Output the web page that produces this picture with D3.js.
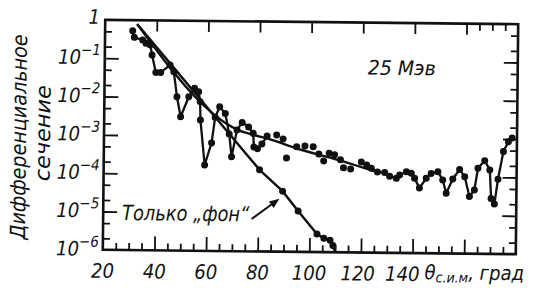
<!DOCTYPE html>
<html>
<head>
<meta charset="utf-8">
<script src="https://cdn.jsdelivr.net/npm/d3@7"></script>
<style>
  body { margin: 0; background: #fff; }
  text { font-family: "Liberation Sans Narrow", "DejaVu Sans Condensed", "Liberation Sans", sans-serif; font-style: italic; fill: #111; }
</style>
</head>
<body>
<svg width="534" height="288"></svg>
<script>
// angle (deg, c.m.) and differential cross section
const xTickLabels = [20, 40, 60, 80, 100, 120, 140];
const yDecades = [-1, -2, -3, -4, -5, -6];

// measured points joined by a broken line (forward angles)
const leftPoints = [
  [30.7, 0.53], [31.35, 0.356], [34.6, 0.305], [35.9, 0.25], [37.6, 0.227], [38.3, 0.124],
  [39.8, 0.044], [41.7, 0.044], [45.3, 0.069], [46.8, 0.046], [48.1, 0.0103], [49.6, 3.1e-3],
  [52.7, 0.0104], [54.9, 0.0173], [56.5, 0.0141], [57.1, 7.8e-3], [57.3, 2.6e-3], [59.1, 1.74e-4],
  [61.7, 6.6e-4], [63.0, 3.1e-3], [64.7, 5.8e-3], [66.9, 3.9e-3], [68.5, 1.13e-3], [69.5, 2.9e-4],
  [71.5, 1.45e-3], [73.5, 2.3e-3], [76.0, 1.75e-3], [77.8, 1.2e-3], [78.1, 5.3e-4], [79.5, 4.8e-4],
  [81.2, 6.4e-4], [83.2, 1.03e-3]
];
// measured points shown as dots only
const midPoints = [
  [86.9, 1.1e-3], [89.4, 8.7e-4], [90.8, 2.8e-4], [94.7, 5.5e-4], [97.9, 5.8e-4], [101.1, 5.6e-4],
  [103.3, 3.6e-4], [105.2, 2.4e-4], [107.3, 3.8e-4], [109.4, 3.5e-4], [111.7, 2.6e-4],
  [112.9, 1.6e-4], [115.7, 1.5e-4]
];
// measured points joined by a broken line (backward angles)
const rightPoints = [
  [119.8, 2.3e-4], [121.9, 1.93e-4], [123.7, 1.58e-4], [126.1, 1.27e-4], [128.9, 1.24e-4],
  [130.8, 1.0e-4], [133.4, 8.8e-5], [134.7, 1.08e-4], [137.3, 1.32e-4], [139.2, 1.2e-4],
  [140.5, 8.9e-5], [142.4, 5e-5], [145.0, 9e-5], [146.9, 1.21e-4], [149.5, 1.35e-4],
  [151.4, 8.2e-5], [152.8, 3.7e-5], [155.3, 8.8e-5], [157.9, 1.56e-4], [159.9, 1.01e-4],
  [161.8, 3.1e-5], [163.7, 4.6e-5], [165.0, 1.7e-4], [167.6, 2.7e-4], [169.6, 1.55e-4],
  [170.2, 2.8e-5], [171.5, 2e-5], [172.8, 8.9e-5], [174.8, 4.7e-4], [176.7, 8.5e-4], [178.1, 1.07e-3]
];
// smooth total curve
const fitCurve = [
  [32.4, 0.79], [62, 3.9e-3], [67, 2.2e-3], [72, 1.45e-3], [78, 1.1e-3], [85, 8.2e-4],
  [95, 4.9e-4], [108, 2.9e-4], [126, 1.27e-4]
];
// "background only" curve, dots on the inner vertices
const bgCurve = [
  [32.4, 0.79], [80.4, 1.35e-4], [89.4, 3.8e-5], [95.5, 1.17e-5], [102.9, 2.95e-6],
  [105.6, 2.3e-6], [108.0, 2.05e-6], [109.1, 1.5e-6], [110.0, 1e-6]
];
const arrowFrom = [77.5, 7e-6];
const arrowTo = [88.2, 2.4e-5];

const margin = {left: 104, top: 22, right: 17, bottom: 36};
const width = 534 - margin.left - margin.right;
const height = 288 - margin.top - margin.bottom;
const ink = '#111';

const svg = d3.select('svg');
// the scan is turned slightly clockwise
const page = svg.append('g').attr('transform', 'rotate(0.6, 310, 137)');
const plot = page.append('g').attr('transform', `translate(${margin.left},${margin.top})`);

const x = d3.scaleLinear().domain([20, 180]).range([0, width]);
const y = d3.scaleLog().domain([1e-6, 1]).range([height, 0]);

plot.append('clipPath').attr('id', 'clip')
  .append('rect').attr('width', width).attr('height', height);

// ticks
function ticks(axis, pos, values, size) {
  const g = plot.append('g').attr('transform', pos)
    .call(axis.tickValues(values).tickSize(size).tickSizeOuter(0).tickFormat(''));
  g.select('.domain').remove();
  g.selectAll('line').attr('stroke', ink).attr('stroke-width', 1.8);
}
const xMajor = d3.range(40, 180, 20);
const xMinor = d3.range(25, 180, 5).filter(d => d % 20 !== 0);
const yMajor = yDecades.slice(0, -1).map(k => Math.pow(10, k));
const yMinor = [];
d3.range(0, 6).forEach(k => [2, 5].forEach(m => yMinor.push(m * Math.pow(10, -k - 1))));

ticks(d3.axisBottom(x), `translate(0,${height})`, xMajor, -14);
ticks(d3.axisBottom(x), `translate(0,${height})`, xMinor, -7);
ticks(d3.axisTop(x), 'translate(0,0)', xMajor, -11);
ticks(d3.axisTop(x), 'translate(0,0)', [165, 170, 175], -7);
ticks(d3.axisLeft(y), 'translate(0,0)', yMajor, -14);
ticks(d3.axisLeft(y), 'translate(0,0)', yMinor, -7);
ticks(d3.axisRight(y), `translate(${width},0)`, yMajor, -14);
ticks(d3.axisRight(y), `translate(${width},0)`, yMinor, -7);

plot.append('rect')
  .attr('width', width).attr('height', height)
  .attr('fill', 'none').attr('stroke', ink).attr('stroke-width', 2.6);

// tick labels
plot.selectAll('.xl').data(xTickLabels).enter().append('text')
  .attr('x', d => x(d) - (d === 140 ? 10 : d === 120 ? 3 : 0))
  .attr('y', height + 28)
  .attr('text-anchor', 'middle')
  .attr('font-size', 20)
  .text(d => d);

plot.append('text').attr('x', -11).attr('y', y(1) + 4)
  .attr('text-anchor', 'middle').attr('font-size', 20).text('1');

yDecades.forEach(k => {
  const t = plot.append('text')
    .attr('x', -4).attr('y', y(Math.pow(10, k)) + 6)
    .attr('text-anchor', 'end').attr('font-size', 20);
  t.append('tspan').text('10');
  t.append('tspan').attr('dy', -9).attr('font-size', 15).text('\u2212' + (-k));
});

// axis titles
const xt = plot.append('text').attr('x', 322).attr('y', height + 26).attr('font-size', 20);
xt.append('tspan').text('\u03b8');
xt.append('tspan').attr('dy', 3).attr('font-size', 14).text('с.и.м');
xt.append('tspan').attr('dy', -3).text(', град');

page.append('text')
  .attr('transform', 'translate(26,140) rotate(-90)')
  .attr('text-anchor', 'middle').attr('font-size', 21)
  .attr('textLength', 205).attr('lengthAdjust', 'spacingAndGlyphs')
  .text('Дифференциальное');
page.append('text')
  .attr('transform', 'translate(50,136) rotate(-90)')
  .attr('text-anchor', 'middle').attr('font-size', 21)
  .attr('textLength', 96).attr('lengthAdjust', 'spacingAndGlyphs')
  .text('сечение');

page.append('text').attr('x', 367).attr('y', 74).attr('font-size', 20)
  .attr('textLength', 68).attr('lengthAdjust', 'spacingAndGlyphs')
  .text('25 Мэв');

page.append('text').attr('x', 123).attr('y', 222).attr('font-size', 21)
  .attr('textLength', 127).attr('lengthAdjust', 'spacingAndGlyphs')
  .text('Только \u201eфон\u201c');

// curves
const data = plot.append('g').attr('clip-path', 'url(#clip)');
const line = d3.line().x(d => x(d[0])).y(d => y(d[1]));

data.append('path').datum(fitCurve)
  .attr('d', line.curve(d3.curveMonotoneX))
  .attr('fill', 'none').attr('stroke', ink).attr('stroke-width', 2.4);
line.curve(d3.curveLinear);

data.append('path').datum(bgCurve)
  .attr('d', line)
  .attr('fill', 'none').attr('stroke', ink).attr('stroke-width', 2.4);

[leftPoints, rightPoints].forEach(pts => {
  data.append('path').datum(pts)
    .attr('d', line)
    .attr('fill', 'none').attr('stroke', ink).attr('stroke-width', 2.3)
    .attr('stroke-linejoin', 'round');
});

data.selectAll('.dot')
  .data(leftPoints.concat(midPoints, rightPoints, bgCurve.slice(1, -1)))
  .enter().append('circle')
  .attr('cx', d => x(d[0])).attr('cy', d => y(d[1]))
  .attr('r', 3.5).attr('fill', ink);

// arrow to the background curve
const ax1 = x(arrowFrom[0]), ay1 = y(arrowFrom[1]);
const ax2 = x(arrowTo[0]), ay2 = y(arrowTo[1]);
const ang = Math.atan2(ay2 - ay1, ax2 - ax1);
plot.append('line')
  .attr('x1', ax1).attr('y1', ay1)
  .attr('x2', ax2 - 6 * Math.cos(ang)).attr('y2', ay2 - 6 * Math.sin(ang))
  .attr('stroke', ink).attr('stroke-width', 2);
plot.append('path')
  .attr('d', d3.line()([
    [ax2, ay2],
    [ax2 - 10 * Math.cos(ang) + 4 * Math.sin(ang), ay2 - 10 * Math.sin(ang) - 4 * Math.cos(ang)],
    [ax2 - 10 * Math.cos(ang) - 4 * Math.sin(ang), ay2 - 10 * Math.sin(ang) + 4 * Math.cos(ang)]
  ]) + 'Z')
  .attr('fill', ink);
</script>
</body>
</html>
